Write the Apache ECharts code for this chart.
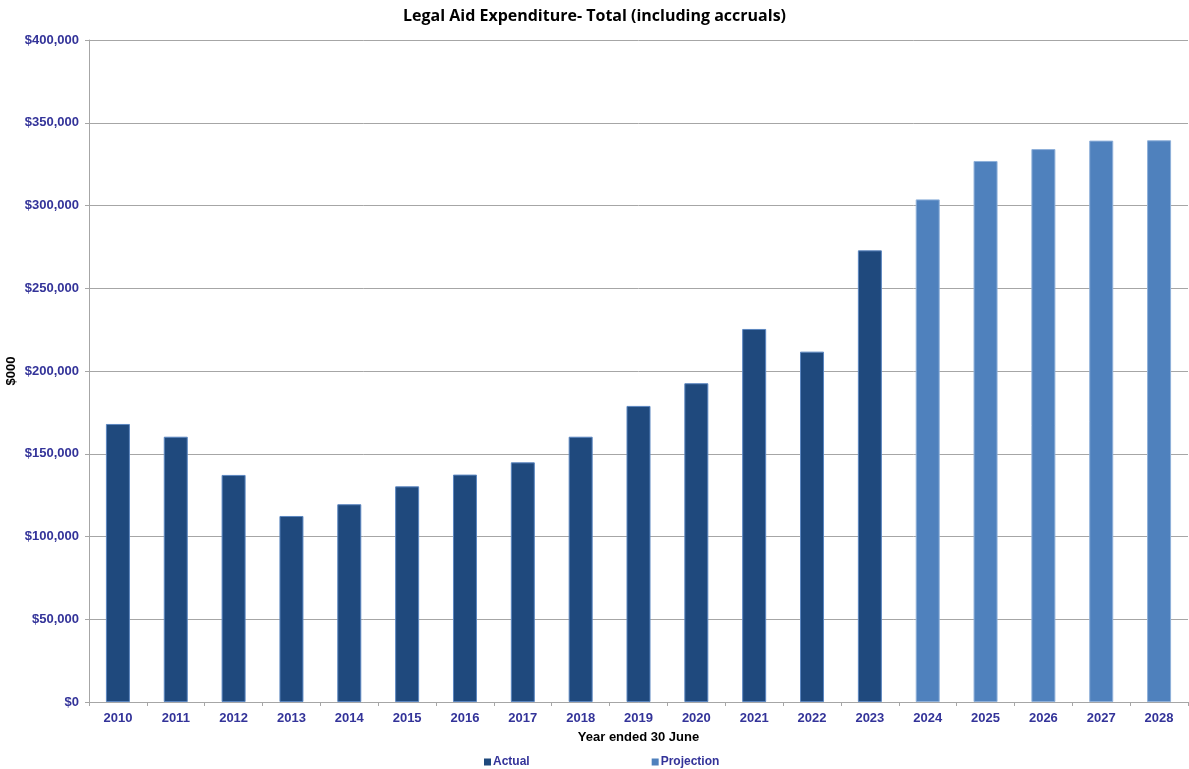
<!DOCTYPE html>
<html>
<head>
<meta charset="utf-8">
<style>
  html, body { margin: 0; padding: 0; background: #ffffff; }
  #chart { width: 1189px; height: 769px; }
</style>
<script src="https://cdn.jsdelivr.net/npm/echarts@6/dist/echarts.min.js"></script>
</head>
<body>
<div id="chart"></div>
<script>
// Financial years ending 30 June
const years = ['2010','2011','2012','2013','2014','2015','2016','2017','2018','2019',
               '2020','2021','2022','2023','2024','2025','2026','2027','2028'];

// Expenditure in $000 — actual outturn (2010–2023)
const actual = [168000, 160300, 137200, 112400, 119500, 130300, 137400, 144800, 160300, 178900,
                192600, 225400, 211700, 272900, null, null, null, null, null];

// Expenditure in $000 — projected (2024–2028)
const projection = [null, null, null, null, null, null, null, null, null, null,
                    null, null, null, null, 303700, 326900, 334100, 339200, 339400];

const labelColor = '#333399';
const chart = echarts.init(document.getElementById('chart'));

chart.setOption({
  animation: false,
  backgroundColor: '#ffffff',
  title: {
    text: 'Legal Aid Expenditure- Total (including accruals)',
    left: 'center',
    top: 3,
    textStyle: { fontFamily: 'Open Sans', fontWeight: 'bold', fontSize: 16, color: '#000000' }
  },
  legend: {
    top: 751,
    left: 479,
    itemWidth: 7,
    itemHeight: 7,
    itemGap: 122,
    icon: 'rect',
    itemStyle: { borderWidth: 0 },
    textStyle: { fontFamily: 'Liberation Sans', fontWeight: 'bold', fontSize: 12, color: labelColor, padding: [0, 0, 0, -3] },
    data: ['Actual', 'Projection']
  },
  grid: { left: 89, right: 1, top: 40, bottom: 67, containLabel: false, outerBoundsMode: 'none' },
  xAxis: {
    type: 'category',
    data: years,
    name: 'Year ended 30 June',
    nameLocation: 'middle',
    nameGap: 29,
    nameMoveOverlap: false,
    nameTextStyle: { fontFamily: 'Liberation Sans', fontWeight: 'bold', fontSize: 13, color: '#000000' },
    axisLine: { lineStyle: { color: '#a6a6a6', width: 1 } },
    axisTick: { show: true, interval: 0, length: 4, lineStyle: { color: '#a6a6a6' } },
    axisLabel: { interval: 0, margin: 10, fontFamily: 'Liberation Sans', fontWeight: 'bold', fontSize: 13, color: labelColor }
  },
  yAxis: {
    type: 'value',
    min: 0,
    max: 400000,
    interval: 50000,
    name: '$000',
    nameLocation: 'middle',
    nameGap: 71,
    nameMoveOverlap: false,
    nameRotate: 90,
    nameTextStyle: { fontFamily: 'Liberation Sans', fontWeight: 'bold', fontSize: 13, color: '#000000' },
    axisLine: { show: true, lineStyle: { color: '#a6a6a6', width: 1 } },
    axisTick: { show: true, length: 4, lineStyle: { color: '#a6a6a6' } },
    splitLine: { lineStyle: { color: '#a6a6a6', width: 1 } },
    axisLabel: {
      margin: 10,
      fontFamily: 'Liberation Sans', fontWeight: 'bold', fontSize: 13, color: labelColor,
      formatter: v => '$' + v.toLocaleString('en-US')
    }
  },
  series: [
    {
      name: 'Actual',
      type: 'bar',
      data: actual,
      barWidth: 24,
      barGap: '-100%',
      itemStyle: { color: '#1f497d', borderColor: '#5b86c0', borderWidth: 1 }
    },
    {
      name: 'Projection',
      type: 'bar',
      data: projection,
      barWidth: 24,
      barGap: '-100%',
      itemStyle: { color: '#4f81bd', borderColor: '#8eb0da', borderWidth: 1 }
    }
  ]
});
</script>
</body>
</html>
